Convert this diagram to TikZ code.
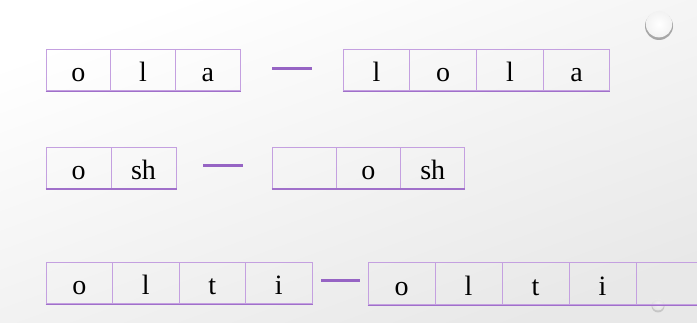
\documentclass[tikz,border=0pt]{standalone}
\usepackage{fontspec}
\setmainfont{Liberation Serif}
\definecolor{cellline}{RGB}{196,160,224}
\definecolor{cellbottom}{RGB}{160,112,202}
\definecolor{dashcol}{RGB}{150,100,196}
\tikzset{
  cellbox/.style={draw=cellline, line width=1pt, rectangle, inner sep=0pt,
    minimum width=#1, minimum height=41pt, text height=23pt, text depth=0pt,
    font=\fontsize{28}{32}\selectfont},
  bottomline/.style={draw=cellbottom, line width=1.6pt},
  dashline/.style={draw=dashcol, line width=3pt},
}
\begin{document}
\begin{tikzpicture}[x=1pt,y=-1pt]
\clip (0,0) rectangle (697,323);
\useasboundingbox (0,0) rectangle (697,323);
\shade[top color=white, bottom color=black!9, shading angle=20] (0,0) rectangle (697,323);
% bead top right
\fill[black!35] (659,26) circle (14);
\shade[inner color=white, outer color=black!5] (659,24.2) circle (13.2);
% bead bottom right
\fill[black!28, opacity=0.7] (658,306) circle (6.5);
\shade[inner color=white, outer color=black!8, opacity=0.8] (658,304.5) circle (6);

% Row 1 left
\node[cellbox=64.7pt] (a1) at (78.35,70.5) {o};
\node[cellbox=64.7pt] (a2) at (143.05,70.5) {l};
\node[cellbox=64.7pt] (a3) at (207.75,70.5) {a};
\draw[bottomline] (a1.south west) -- (a3.south east);
\coordinate (d1a) at (272,69);
\coordinate (d1b) at (312,69);
\draw[dashline] (d1a) -- (d1b);
% Row 1 right
\node[cellbox=66.75pt] (b1) at (376.4,70.5) {l};
\node[cellbox=66.75pt] (b2) at (443.1,70.5) {o};
\node[cellbox=66.75pt] (b3) at (509.9,70.5) {l};
\node[cellbox=66.75pt] (b4) at (576.6,70.5) {a};
\draw[bottomline] (b1.south west) -- (b4.south east);

% Row 2 left
\node[cellbox=65pt] (c1) at (78.5,168) {o};
\node[cellbox=65pt] (c2) at (143.5,168) {sh};
\draw[bottomline] (c1.south west) -- (c2.south east);
\coordinate (d2a) at (203,166);
\coordinate (d2b) at (243,166);
\draw[dashline] (d2a) -- (d2b);
% Row 2 right
\node[cellbox=64.3pt] (e1) at (304.15,168) {};
\node[cellbox=64.3pt] (e2) at (368.45,168) {o};
\node[cellbox=64.3pt] (e3) at (432.75,168) {sh};
\draw[bottomline] (e1.south west) -- (e3.south east);

% Row 3 left
\node[cellbox=66.5pt] (f1) at (79.25,283.5) {o};
\node[cellbox=66.5pt] (f2) at (145.75,283.5) {l};
\node[cellbox=66.5pt] (f3) at (212.25,283.5) {t};
\node[cellbox=66.5pt] (f4) at (278.75,283.5) {i};
\draw[bottomline] (f1.south west) -- (f4.south east);
\coordinate (d3a) at (321,281);
\coordinate (d3b) at (360,281);
\draw[dashline] (d3a) -- (d3b);
% Row 3 right
\node[cellbox=67pt, minimum height=42pt] (g1) at (401.5,284) {o};
\node[cellbox=67pt, minimum height=42pt] (g2) at (468.5,284) {l};
\node[cellbox=67pt, minimum height=42pt] (g3) at (535.5,284) {t};
\node[cellbox=67pt, minimum height=42pt] (g4) at (602.5,284) {i};
\node[cellbox=67pt, minimum height=42pt] (g5) at (669.5,284) {};
\draw[bottomline] (g1.south west) -- (g5.south east);
\end{tikzpicture}
\end{document}
